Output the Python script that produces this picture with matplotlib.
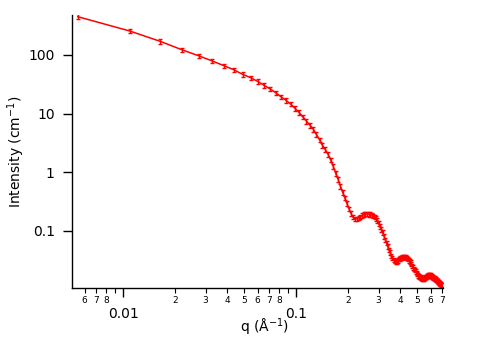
import numpy as np
import matplotlib
matplotlib.use("Agg")
import matplotlib.pyplot as plt
from matplotlib.ticker import LogLocator, FixedLocator, FuncFormatter, NullLocator

# ------------------ DATA ------------------
q = [0.00547, 0.01094, 0.01641, 0.02188, 0.02735, 0.03282, 0.03829, 0.04376,
     0.04923, 0.05470, 0.06017, 0.06564, 0.07111, 0.07658, 0.08205, 0.08752,
     0.09299, 0.09846, 0.10393, 0.10940, 0.11487, 0.12034, 0.12581, 0.13128,
     0.13675, 0.14222, 0.14769, 0.15316, 0.15863, 0.16410, 0.16957, 0.17504,
     0.18051, 0.18598, 0.19145, 0.19692, 0.20239, 0.20786, 0.21333, 0.21880,
     0.22427, 0.22974, 0.23521, 0.24068, 0.24615, 0.25162, 0.25709, 0.26256,
     0.26803, 0.27350, 0.27897, 0.28444, 0.28991, 0.29538, 0.30085, 0.30632,
     0.31179, 0.31726, 0.32273, 0.32820, 0.33367, 0.33914, 0.34461, 0.35008,
     0.35555, 0.36102, 0.36649, 0.37196, 0.37743, 0.38290, 0.38837, 0.39384,
     0.39931, 0.40478, 0.41025, 0.41572, 0.42119, 0.42666, 0.43213, 0.43760,
     0.44307, 0.44854, 0.45401, 0.45948, 0.46495, 0.47042, 0.47589, 0.48136,
     0.48683, 0.49230, 0.49777, 0.50324, 0.50871, 0.51418, 0.51965, 0.52512,
     0.53059, 0.53606, 0.54153, 0.54700, 0.55247, 0.55794, 0.56341, 0.56888,
     0.57435, 0.57982, 0.58529, 0.59076, 0.59623, 0.60170, 0.60717, 0.61264,
     0.61811, 0.62358, 0.62905, 0.63452, 0.63999, 0.64546, 0.65093, 0.65640,
     0.66187, 0.66734, 0.67281, 0.67828, 0.68375, 0.68922, 0.69469, 0.70016]

intensity = [452, 257, 171, 123, 97, 79, 65.5, 55.8,
             46.5, 40.9, 35.2, 30.0, 26.2, 22.5, 19.2, 16.8,
             14.5, 12.3, 10.5, 8.8, 7.4, 6.3, 5.4, 4.35,
             3.55, 2.85, 2.42, 2.0, 1.6, 1.25, 0.95, 0.75,
             0.57, 0.45, 0.36, 0.29, 0.235, 0.195, 0.17, 0.158,
             0.158, 0.165, 0.172, 0.18, 0.187, 0.191, 0.192, 0.19,
             0.187, 0.184, 0.178, 0.17, 0.16, 0.15, 0.133, 0.117,
             0.104, 0.092, 0.080, 0.069, 0.061, 0.053, 0.047, 0.042,
             0.037, 0.034, 0.0315, 0.030, 0.0295, 0.0298, 0.031, 0.0325,
             0.0335, 0.0343, 0.0349, 0.0352, 0.0354, 0.0353, 0.035, 0.0338,
             0.0325, 0.031, 0.0297, 0.0283, 0.0267, 0.025, 0.0235, 0.0222,
             0.0211, 0.0200, 0.019, 0.018, 0.0172, 0.0166, 0.0162, 0.0158,
             0.0155, 0.0153, 0.0152, 0.0152, 0.0154, 0.0157, 0.016, 0.0164,
             0.0168, 0.0171, 0.0173, 0.0174, 0.0173, 0.017, 0.0166, 0.0162,
             0.0159, 0.0156, 0.0154, 0.0152, 0.015, 0.0146, 0.0142, 0.0138,
             0.0134, 0.013, 0.0127, 0.0125, 0.0122, 0.012, 0.0117, 0.0115]

rel_err = 0.09  # relative error bar size

y_ticks = [0.1, 1, 10, 100]
y_tick_labels = ["0.1", "1", "10", "100"]
x_major = [0.01, 0.1]
x_major_labels = ["0.01", "0.1"]

# ------------------ PLOT ------------------
q = np.array(q)
intensity = np.array(intensity)

fig = plt.figure(figsize=(4.84, 3.39), dpi=100)
ax = fig.add_axes([0.1488, 0.1504, 0.9143 - 0.1488, 0.9558 - 0.1504])

ax.errorbar(q, intensity, yerr=rel_err * intensity, color="red", lw=1.1,
            elinewidth=1.0, capsize=1.6, capthick=1.0)

ax.set_xscale("log")
ax.set_yscale("log")
ax.set_xlim(0.00507, 0.7027)
ax.set_ylim(0.0104, 483)

for side in ["top", "right"]:
    ax.spines[side].set_visible(False)
for side in ["left", "bottom"]:
    ax.spines[side].set_linewidth(1.0)

# y axis: only labelled decades
ax.yaxis.set_major_locator(FixedLocator(y_ticks))
ax.yaxis.set_major_formatter(FuncFormatter(lambda v, p: y_tick_labels[y_ticks.index(v)] if v in y_ticks else ""))
ax.yaxis.set_minor_locator(NullLocator())
ax.tick_params(axis="y", which="major", length=6.5, width=1.0, pad=6, labelsize=10)

# x axis: decades big and low, digits small
ax.xaxis.set_major_locator(FixedLocator(x_major))
ax.xaxis.set_major_formatter(FuncFormatter(lambda v, p: x_major_labels[p] if p is not None and p < 2 else ""))
ax.xaxis.set_minor_locator(LogLocator(base=10, subs=range(2, 10), numticks=20))


def minor_fmt(v, pos):
    d = int(round(v / 10 ** np.floor(np.log10(v) + 1e-9)))
    return "" if d == 9 else str(d)


ax.xaxis.set_minor_formatter(FuncFormatter(minor_fmt))
ax.tick_params(axis="x", which="major", length=6.5, width=1.0, pad=7, labelsize=10)
ax.tick_params(axis="x", which="minor", length=3.6, width=0.8, pad=2.5, labelsize=6.5)

ax.set_xlabel("q (Å$^{-1}$)", fontsize=10)
ax.set_ylabel("Intensity (cm$^{-1}$)", fontsize=10)
ax.xaxis.set_label_coords(0.52, -0.105)
ax.yaxis.set_label_coords(-0.122, 0.5)

fig.savefig("out.png", dpi=100)
